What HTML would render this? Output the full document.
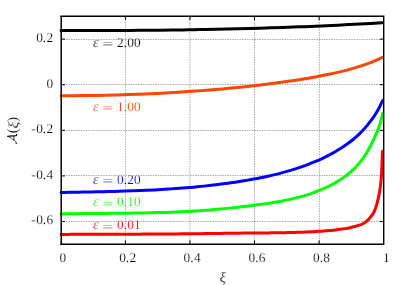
<!DOCTYPE html>
<html><head><meta charset="utf-8"><title>plot</title>
<style>
html,body{margin:0;padding:0;background:#fff;}
body{width:407px;height:285px;overflow:hidden;}
#w{width:407px;height:285px;will-change:transform;}
svg{display:block;}
text{font-family:"Liberation Serif",serif;font-size:13.33px;text-rendering:geometricPrecision;stroke:#fff;stroke-width:0.16px;}
.i{font-style:italic;}
</style></head><body>
<div id="w">
<svg width="407" height="285" viewBox="0 0 407 285">
<rect width="407" height="285" fill="#fff"/>
<g stroke="#000" stroke-width="0.75" stroke-dasharray="1.5 0.98" stroke-opacity="0.44" fill="none">
<path d="M125.45 244.30V16.30"/>
<path d="M189.90 244.30V16.30"/>
<path d="M254.50 244.30V16.30"/>
<path d="M319.40 244.30V16.30"/>
<path d="M61.10 39.50H383.70"/>
<path d="M61.10 84.50H383.70"/>
<path d="M61.10 130.50H383.70"/>
<path d="M61.10 175.50H383.70"/>
<path d="M61.10 221.50H383.70"/>
</g>
<path d="M125.38 244.30v-3.90M125.38 16.30v3.90M189.96 244.30v-3.90M189.96 16.30v3.90M254.54 244.30v-3.90M254.54 16.30v3.90M319.12 244.30v-3.90M319.12 16.30v3.90M61.10 39.10h3.90M383.70 39.10h-3.90M61.10 84.70h3.90M383.70 84.70h-3.90M61.10 130.30h3.90M383.70 130.30h-3.90M61.10 175.90h3.90M383.70 175.90h-3.90M61.10 221.50h3.90M383.70 221.50h-3.90" stroke="#000" stroke-width="1" fill="none"/>
<g fill="none" stroke-width="3" stroke-linejoin="round" stroke-linecap="round">
<path stroke="#000000" d="M61.10 30.47C64.79 30.48 68.48 30.49 72.17 30.50C75.86 30.50 79.55 30.51 83.24 30.51C86.93 30.51 90.62 30.51 94.31 30.51C98.00 30.51 101.69 30.50 105.38 30.49C109.07 30.49 112.76 30.47 116.45 30.46C120.14 30.45 123.83 30.43 127.52 30.41C131.21 30.39 134.90 30.37 138.59 30.34C142.28 30.32 145.97 30.29 149.66 30.26C153.36 30.22 157.05 30.19 160.74 30.15C164.43 30.11 168.12 30.07 171.81 30.02C175.50 29.98 179.18 29.93 182.87 29.88C186.56 29.82 190.25 29.77 193.94 29.71C197.63 29.65 201.32 29.58 205.01 29.52C208.70 29.45 212.39 29.38 216.08 29.30C219.77 29.23 223.46 29.15 227.15 29.06C230.84 28.98 234.53 28.89 238.22 28.80C241.90 28.71 245.59 28.61 249.28 28.51C252.97 28.41 256.66 28.30 260.35 28.19C264.04 28.08 267.72 27.97 271.41 27.85C275.10 27.73 278.79 27.61 282.48 27.48C286.16 27.35 289.85 27.22 293.54 27.08C297.23 26.94 300.91 26.80 304.60 26.65C308.29 26.50 311.97 26.35 315.66 26.19C319.35 26.03 323.03 25.87 326.72 25.70C330.41 25.53 334.09 25.36 337.78 25.18C341.46 25.00 345.15 24.81 348.84 24.62C352.52 24.43 356.21 24.23 359.89 24.03C363.58 23.83 367.26 23.62 370.95 23.41C374.63 23.20 378.31 22.97 382.00 22.75"/>
<path stroke="#ff4500" d="M61.16 95.82C64.88 95.80 68.59 95.78 72.31 95.75C76.03 95.71 79.75 95.67 83.46 95.62C87.19 95.58 90.91 95.52 94.64 95.45C98.37 95.38 102.10 95.31 105.83 95.22C109.56 95.14 113.29 95.04 117.03 94.94C120.76 94.83 124.50 94.72 128.23 94.59C131.97 94.47 135.71 94.33 139.45 94.18C143.19 94.04 146.93 93.88 150.67 93.71C154.41 93.54 158.15 93.36 161.89 93.17C165.63 92.97 169.37 92.77 173.11 92.55C176.85 92.33 180.58 92.10 184.32 91.86C188.06 91.62 191.80 91.36 195.54 91.09C199.27 90.82 203.01 90.54 206.74 90.24C210.48 89.95 214.21 89.64 217.94 89.31C221.67 88.99 225.40 88.65 229.12 88.29C232.85 87.94 236.57 87.57 240.30 87.18C244.02 86.80 247.74 86.40 251.45 85.98C255.17 85.57 258.88 85.14 262.59 84.69C266.30 84.24 270.01 83.78 273.71 83.30C277.41 82.81 281.11 82.32 284.81 81.80C288.50 81.29 292.19 80.76 295.88 80.20C299.56 79.64 303.24 79.07 306.92 78.45C310.59 77.84 314.25 77.20 317.91 76.52C321.56 75.83 325.21 75.11 328.85 74.34C332.49 73.57 336.11 72.75 339.73 71.87C343.34 71.00 346.95 70.07 350.53 69.07C354.12 68.07 357.70 67.02 361.24 65.86C364.81 64.68 368.37 63.44 371.86 62.04C375.42 60.61 378.87 58.92 382.38 57.37"/>
<path stroke="#0000ff" d="M61.08 192.50C63.48 192.46 65.87 192.42 68.27 192.37C70.66 192.33 73.05 192.28 75.44 192.24C77.83 192.20 80.22 192.15 82.61 192.11C85.00 192.06 87.39 192.02 89.78 191.97C92.17 191.92 94.56 191.87 96.95 191.82C99.33 191.77 101.72 191.72 104.11 191.66C106.49 191.61 108.88 191.55 111.26 191.49C113.65 191.43 116.03 191.36 118.42 191.30C120.80 191.23 123.18 191.16 125.57 191.08C127.95 191.00 130.33 190.92 132.71 190.83C135.09 190.75 137.47 190.66 139.85 190.56C142.23 190.46 144.61 190.36 146.99 190.25C149.37 190.14 151.75 190.03 154.12 189.91C156.50 189.79 158.88 189.66 161.25 189.52C163.63 189.38 166.01 189.24 168.38 189.09C170.76 188.94 173.13 188.78 175.51 188.61C177.88 188.44 180.25 188.26 182.63 188.08C185.00 187.89 187.37 187.70 189.74 187.49C192.11 187.29 194.49 187.07 196.86 186.84C199.23 186.62 201.60 186.38 203.97 186.13C206.34 185.89 208.71 185.63 211.08 185.36C213.44 185.09 215.81 184.81 218.18 184.51C220.55 184.22 222.92 183.91 225.28 183.59C227.65 183.27 230.02 182.94 232.38 182.60C234.75 182.25 237.11 181.89 239.48 181.52C241.84 181.15 244.21 180.76 246.57 180.36C248.93 179.95 251.29 179.53 253.65 179.10C256.01 178.66 258.36 178.21 260.71 177.73C263.06 177.25 265.41 176.76 267.75 176.24C270.09 175.72 272.42 175.18 274.75 174.62C277.08 174.06 279.40 173.47 281.71 172.85C284.02 172.24 286.32 171.60 288.61 170.93C290.91 170.26 293.19 169.57 295.46 168.84C297.73 168.11 299.99 167.36 302.24 166.57C304.49 165.78 306.72 164.96 308.94 164.10C311.16 163.24 313.37 162.35 315.56 161.43C317.75 160.50 319.93 159.54 322.09 158.54C324.25 157.53 326.39 156.50 328.51 155.41C330.62 154.32 332.72 153.20 334.78 152.02C336.84 150.84 338.88 149.62 340.88 148.34C342.88 147.06 344.85 145.73 346.77 144.34C348.70 142.95 350.59 141.51 352.43 140.00C354.27 138.49 356.07 136.92 357.82 135.29C359.56 133.66 361.26 131.97 362.90 130.23C364.54 128.48 366.13 126.69 367.65 124.84C369.18 123.00 370.64 121.11 372.04 119.17C373.44 117.23 374.77 115.25 376.03 113.22C377.29 111.19 378.48 109.12 379.59 107.00C380.71 104.89 381.66 102.69 382.70 100.53"/>
<path stroke="#00ff00" d="M61.10 214.00C63.58 213.95 66.06 213.89 68.53 213.84C71.01 213.79 73.49 213.75 75.97 213.71C78.45 213.67 80.93 213.64 83.41 213.61C85.89 213.58 88.37 213.55 90.85 213.52C93.33 213.50 95.81 213.47 98.29 213.45C100.78 213.43 103.26 213.40 105.74 213.38C108.22 213.36 110.70 213.34 113.18 213.32C115.67 213.29 118.15 213.27 120.63 213.25C123.11 213.22 125.59 213.19 128.08 213.16C130.56 213.13 133.04 213.10 135.52 213.07C138.01 213.03 140.49 212.99 142.97 212.95C145.45 212.90 147.93 212.85 150.41 212.80C152.90 212.74 155.38 212.68 157.86 212.62C160.34 212.55 162.82 212.48 165.30 212.39C167.78 212.31 170.26 212.23 172.74 212.13C175.22 212.03 177.70 211.93 180.17 211.81C182.65 211.70 185.13 211.57 187.61 211.44C190.08 211.30 192.56 211.16 195.04 211.00C197.51 210.84 199.99 210.68 202.46 210.50C204.94 210.32 207.41 210.13 209.88 209.93C212.36 209.74 214.83 209.53 217.30 209.31C219.77 209.09 222.24 208.86 224.71 208.62C227.18 208.38 229.65 208.13 232.12 207.87C234.59 207.61 237.05 207.34 239.52 207.06C241.98 206.78 244.45 206.49 246.91 206.20C249.37 205.90 251.84 205.59 254.30 205.27C256.76 204.95 259.22 204.63 261.68 204.28C264.13 203.94 266.59 203.59 269.04 203.21C271.49 202.83 273.94 202.44 276.38 202.01C278.82 201.59 281.26 201.14 283.70 200.66C286.13 200.18 288.56 199.67 290.97 199.12C293.39 198.57 295.81 197.99 298.21 197.36C300.62 196.73 303.01 196.07 305.39 195.35C307.78 194.63 310.15 193.87 312.50 193.05C314.84 192.23 317.18 191.36 319.48 190.43C321.78 189.50 324.07 188.51 326.31 187.46C328.55 186.40 330.77 185.28 332.95 184.09C335.12 182.90 337.26 181.65 339.35 180.31C341.44 178.98 343.50 177.57 345.48 176.08C347.47 174.59 349.41 173.02 351.26 171.36C353.12 169.71 354.91 167.98 356.61 166.17C358.31 164.37 359.93 162.48 361.44 160.52C362.95 158.57 364.36 156.54 365.68 154.46C367.00 152.39 368.19 150.24 369.36 148.08C370.54 145.90 371.65 143.68 372.74 141.44C373.83 139.19 374.90 136.93 375.89 134.63C376.89 132.34 377.85 130.02 378.70 127.68C379.55 125.35 380.35 122.99 381.00 120.60C381.65 118.24 382.09 115.82 382.63 113.42"/>
<path stroke="#ff0000" d="M61.10 234.40C62.71 234.40 64.31 234.39 65.92 234.39C67.53 234.38 69.13 234.38 70.74 234.37C72.34 234.37 73.95 234.36 75.56 234.36C77.16 234.35 78.77 234.35 80.37 234.34C81.98 234.34 83.59 234.34 85.19 234.33C86.80 234.33 88.41 234.32 90.01 234.32C91.62 234.31 93.22 234.31 94.83 234.30C96.44 234.30 98.04 234.29 99.65 234.29C101.26 234.28 102.86 234.28 104.47 234.27C106.08 234.27 107.68 234.26 109.29 234.26C110.90 234.25 112.50 234.25 114.11 234.24C115.72 234.24 117.32 234.23 118.93 234.22C120.54 234.22 122.14 234.21 123.75 234.21C125.36 234.20 126.96 234.19 128.57 234.19C130.18 234.18 131.79 234.17 133.39 234.16C135.00 234.16 136.61 234.15 138.21 234.14C139.82 234.13 141.43 234.13 143.04 234.12C144.64 234.11 146.25 234.10 147.86 234.09C149.46 234.08 151.07 234.07 152.68 234.06C154.28 234.05 155.89 234.04 157.50 234.03C159.11 234.02 160.71 234.01 162.32 234.00C163.93 233.99 165.54 233.98 167.14 233.96C168.75 233.95 170.36 233.94 171.96 233.93C173.57 233.91 175.18 233.90 176.79 233.89C178.39 233.87 180.00 233.86 181.61 233.84C183.21 233.83 184.82 233.81 186.43 233.80C188.04 233.78 189.64 233.76 191.25 233.75C192.86 233.73 194.46 233.71 196.07 233.69C197.68 233.68 199.28 233.66 200.89 233.64C202.50 233.62 204.11 233.60 205.71 233.58C207.32 233.56 208.93 233.54 210.53 233.52C212.14 233.50 213.75 233.48 215.35 233.46C216.96 233.44 218.57 233.42 220.17 233.40C221.78 233.38 223.39 233.36 225.00 233.34C226.60 233.32 228.21 233.30 229.82 233.29C231.42 233.27 233.03 233.25 234.64 233.23C236.24 233.21 237.85 233.19 239.45 233.17C241.06 233.15 242.67 233.14 244.27 233.12C245.88 233.10 247.49 233.08 249.09 233.07C250.70 233.05 252.31 233.03 253.91 233.02C255.52 233.00 257.12 232.99 258.73 232.98C260.34 232.96 261.94 232.95 263.55 232.93C265.15 232.92 266.76 232.90 268.37 232.89C269.97 232.87 271.58 232.86 273.18 232.84C274.79 232.82 276.39 232.80 278.00 232.78C279.61 232.76 281.21 232.73 282.82 232.70C284.42 232.68 286.03 232.65 287.63 232.61C289.24 232.58 290.84 232.54 292.45 232.50C294.05 232.46 295.66 232.42 297.26 232.37C298.87 232.32 300.47 232.27 302.08 232.21C303.68 232.15 305.29 232.08 306.89 232.01C308.50 231.94 310.10 231.87 311.70 231.79C313.31 231.70 314.91 231.62 316.52 231.52C318.12 231.43 319.73 231.32 321.33 231.21C322.93 231.10 324.54 230.99 326.14 230.86C327.75 230.73 329.35 230.59 330.95 230.44C332.56 230.29 334.16 230.13 335.76 229.95C337.36 229.77 338.96 229.57 340.55 229.35C342.15 229.12 343.74 228.88 345.32 228.61C346.90 228.33 348.48 228.03 350.05 227.69C351.61 227.34 353.17 226.97 354.72 226.55C356.26 226.13 357.82 225.73 359.32 225.17C360.83 224.60 362.35 223.98 363.73 223.17C365.11 222.36 366.41 221.36 367.59 220.28C368.76 219.22 369.81 218.00 370.79 216.77C371.80 215.50 372.78 214.17 373.58 212.76C374.36 211.38 374.98 209.88 375.53 208.38C376.08 206.88 376.47 205.32 376.90 203.78C377.33 202.23 377.72 200.68 378.08 199.11C378.45 197.55 378.78 195.98 379.09 194.40C379.39 192.83 379.67 191.24 379.92 189.66C380.17 188.07 380.39 186.48 380.59 184.89C380.78 183.29 380.95 181.69 381.10 180.09C381.25 178.49 381.37 176.89 381.47 175.28C381.58 173.67 381.65 172.07 381.73 170.46C381.80 168.85 381.86 167.24 381.92 165.63C381.98 164.03 382.03 162.42 382.09 160.81C382.15 159.21 382.20 157.60 382.28 156.00C382.35 154.40 382.45 152.80 382.53 151.20"/>
</g>
<path d="M60.33 16.30H384.40M60.33 244.30H384.40M383.70 16.30V244.30" fill="none" stroke="#000" stroke-width="1.4"/>
<path d="M61.20 16.30V244.30" fill="none" stroke="#000" stroke-width="1.5"/>
<text x="36.17 42.83 46.54" y="42.40">0.2</text>
<text x="46.54" y="88.20">0</text>
<text x="31.32 36.17 42.83 46.54" y="133.20">-0.2</text>
<text x="31.32 36.17 42.83 46.54" y="179.20">-0.4</text>
<text x="31.32 36.17 42.83 46.54" y="224.35">-0.6</text>
<text x="59.57" y="261.5">0</text>
<text x="119.18 125.85 129.55" y="261.5">0.2</text>
<text x="183.58 190.25 193.95" y="261.5">0.4</text>
<text x="248.48 255.15 258.85" y="261.5">0.6</text>
<text x="312.98 319.65 323.35" y="261.5">0.8</text>
<text x="382.92" y="261.5">1</text>
<text class="i" x="222.7" y="282" text-anchor="middle" style="font-size:14.1px">ξ</text>
<g transform="translate(16.85 143.8) rotate(-90)"><g fill="none" stroke="#000" stroke-linecap="round" stroke-linejoin="round"><path d="M7.45 -9L3.7 -2.3C3.3 -1.6 2.6 -1.25 1.8 -1L0.6 -0.65" stroke-width="0.6"/><path d="M0.3 -0.65h0.45" stroke-width="1.05"/><path d="M7.45 -9.05C7.65 -6 7.9 -2.5 8.05 -0.75C8.1 -0.15 8.7 0 9.35 -0.35" stroke-width="1.2"/><path d="M3.4 -2.9H7.9" stroke-width="0.8"/></g><text x="10.5" y="0" style="font-size:14.4px">(</text><text class="i" transform="translate(15.25 0.7) scale(1.12 1)" style="font-size:14.1px">ξ</text><text x="22.07" y="0" style="font-size:14.4px">)</text></g>
<g fill="#000000"><text class="i" x="92.9" y="46.80" style="font-size:14.5px">ε</text><text transform="translate(102.3 48.10) scale(1.48 1)">=</text><text x="117.00 123.67 127.37 134.03" y="46.80">2.00</text></g>
<g fill="#ff4500"><text class="i" x="92.9" y="110.70" style="font-size:14.5px">ε</text><text transform="translate(102.3 112.00) scale(1.48 1)">=</text><text x="117.00 123.67 127.37 134.03" y="110.70">1.00</text></g>
<g fill="#0000ff"><text class="i" x="92.9" y="183.65" style="font-size:14.5px">ε</text><text transform="translate(102.3 184.95) scale(1.48 1)">=</text><text x="117.00 123.67 127.37 134.03" y="183.65">0.20</text></g>
<g fill="#00ff00"><text class="i" x="92.9" y="206.30" style="font-size:14.5px">ε</text><text transform="translate(102.3 207.60) scale(1.48 1)">=</text><text x="117.00 123.67 127.37 134.03" y="206.30">0.10</text></g>
<g fill="#ff0000"><text class="i" x="92.9" y="229.40" style="font-size:14.5px">ε</text><text transform="translate(102.3 230.70) scale(1.48 1)">=</text><text x="117.00 123.67 127.37 134.03" y="229.40">0.01</text></g>
</svg>
</div>
</body></html>
